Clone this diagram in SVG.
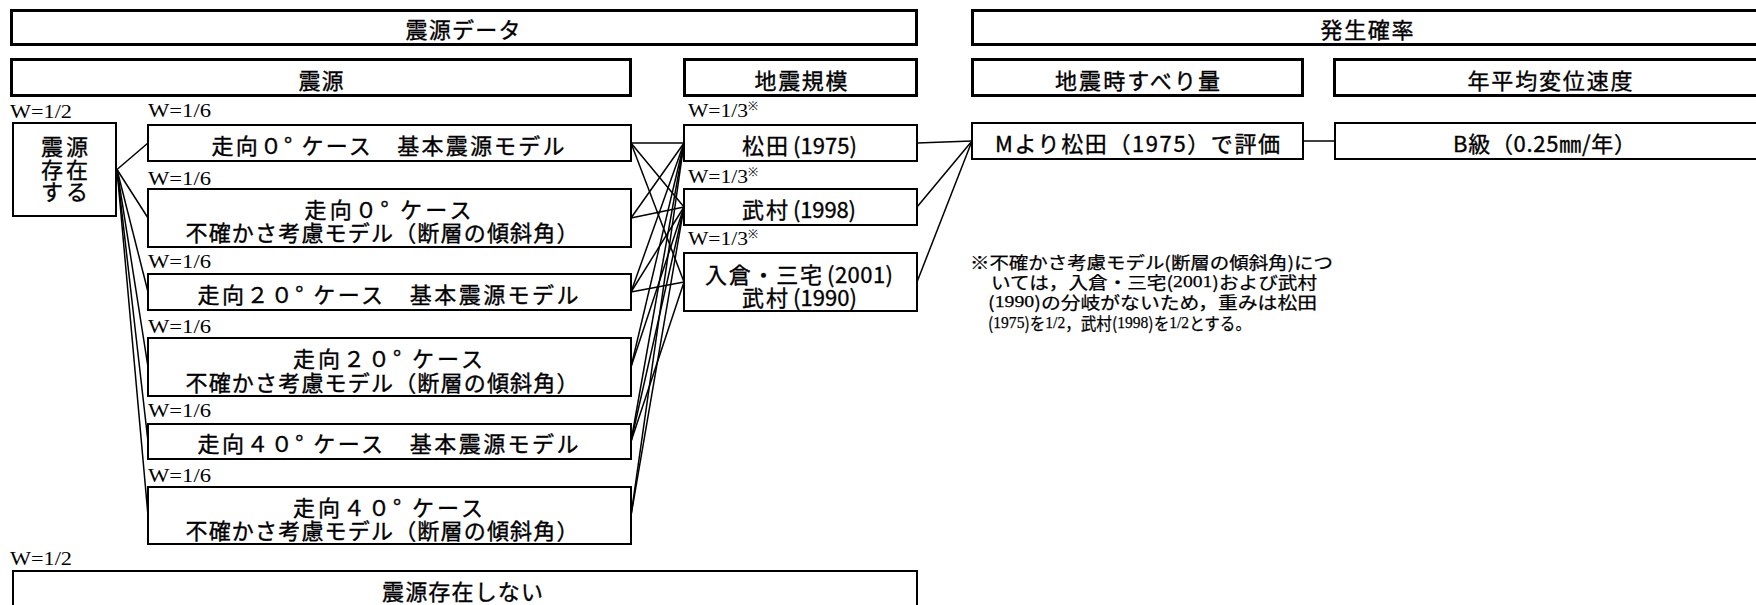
<svg xmlns="http://www.w3.org/2000/svg" width="1756" height="605" viewBox="0 0 1756 605">
<style>
.bg{fill:#fff}
.tb{fill:#fff;stroke:#000;stroke-width:3}
.nb{fill:#fff;stroke:#000;stroke-width:2}
.t{font-family:"Noto Sans CJK JP","Noto Sans",sans-serif;font-size:22px;fill:#000;stroke:#000;stroke-width:0.35;text-anchor:middle;dominant-baseline:central}
.l{text-anchor:start}
.w{font-family:"Liberation Serif","DejaVu Serif",serif;font-size:19px;fill:#000}
.n{font-family:"Noto Sans CJK JP","Noto Sans",sans-serif;font-size:17px;fill:#000;stroke:#000;stroke-width:0.25;dominant-baseline:central}
.s{font-family:"Liberation Serif","DejaVu Serif",serif}
.c{fill:none;stroke:#000;stroke-width:1.5}
</style>
<rect class="bg" x="0" y="0" width="1756" height="605"/>

<g id="connectors">
  <line class="c" x1="117" y1="169.5" x2="148" y2="143"/>
  <line class="c" x1="117" y1="169.5" x2="148" y2="218"/>
  <line class="c" x1="117" y1="169.5" x2="148" y2="292"/>
  <line class="c" x1="117" y1="169.5" x2="148" y2="367"/>
  <line class="c" x1="117" y1="169.5" x2="148" y2="441.5"/>
  <line class="c" x1="117" y1="169.5" x2="148" y2="515.5"/>

  <line class="c" x1="631" y1="143" x2="684" y2="143"/>
  <line class="c" x1="631" y1="143" x2="684" y2="207"/>
  <line class="c" x1="631" y1="143" x2="684" y2="282"/>
  <line class="c" x1="631" y1="218" x2="684" y2="143"/>
  <line class="c" x1="631" y1="218" x2="684" y2="207"/>
  <line class="c" x1="631" y1="292" x2="684" y2="143"/>
  <line class="c" x1="631" y1="292" x2="684" y2="207"/>
  <line class="c" x1="631" y1="292" x2="684" y2="282"/>
  <line class="c" x1="631" y1="367" x2="684" y2="143"/>
  <line class="c" x1="631" y1="367" x2="684" y2="207"/>
  <line class="c" x1="631" y1="441.5" x2="684" y2="143"/>
  <line class="c" x1="631" y1="441.5" x2="684" y2="207"/>
  <line class="c" x1="631" y1="441.5" x2="684" y2="282"/>
  <line class="c" x1="631" y1="515.5" x2="684" y2="143"/>
  <line class="c" x1="631" y1="515.5" x2="684" y2="207"/>

  <line class="c" x1="917" y1="143" x2="972" y2="141"/>
  <line class="c" x1="917" y1="207" x2="972" y2="141"/>
  <line class="c" x1="917" y1="282" x2="972" y2="141"/>
  <line class="c" x1="1303" y1="141" x2="1335" y2="141"/>
</g>

<g id="hdr-shingen-data">
  <rect class="tb" x="11.5" y="10.5" width="905" height="34"/>
  <text class="t" x="463" y="28" textLength="115">震源データ</text>
</g>
<g id="hdr-hassei">
  <rect class="tb" x="972.5" y="10.5" width="800" height="34"/>
  <text class="t" x="1367" y="28" textLength="93">発生確率</text>
</g>
<g id="hdr-shingen">
  <rect class="tb" x="11.5" y="59.5" width="619" height="36"/>
  <text class="t" x="321" y="79" textLength="45">震源</text>
</g>
<g id="hdr-kibo">
  <rect class="tb" x="684.5" y="59.5" width="232" height="36"/>
  <text class="t" x="801" y="79" textLength="93">地震規模</text>
</g>
<g id="hdr-suberi">
  <rect class="tb" x="972.5" y="59.5" width="330" height="36"/>
  <text class="t" x="1137.5" y="79" textLength="165">地震時すべり量</text>
</g>
<g id="hdr-heikin">
  <rect class="tb" x="1334.5" y="59.5" width="500" height="36"/>
  <text class="t" x="1550" y="79" textLength="165">年平均変位速度</text>
</g>

<g id="w-labels">
  <text class="w" x="10" y="118" textLength="62" lengthAdjust="spacingAndGlyphs">W=1/2</text>
  <text class="w" x="148" y="117" textLength="63" lengthAdjust="spacingAndGlyphs">W=1/6</text>
  <text class="w" x="148" y="185" textLength="63" lengthAdjust="spacingAndGlyphs">W=1/6</text>
  <text class="w" x="148" y="268" textLength="63" lengthAdjust="spacingAndGlyphs">W=1/6</text>
  <text class="w" x="148" y="333" textLength="63" lengthAdjust="spacingAndGlyphs">W=1/6</text>
  <text class="w" x="148" y="417" textLength="63" lengthAdjust="spacingAndGlyphs">W=1/6</text>
  <text class="w" x="148" y="482" textLength="63" lengthAdjust="spacingAndGlyphs">W=1/6</text>
  <text class="w" x="10" y="565" textLength="62" lengthAdjust="spacingAndGlyphs">W=1/2</text>
  <text class="w" x="688" y="117"><tspan textLength="60" lengthAdjust="spacingAndGlyphs">W=1/3</tspan><tspan font-size="12" dy="-7">※</tspan></text>
  <text class="w" x="688" y="183"><tspan textLength="60" lengthAdjust="spacingAndGlyphs">W=1/3</tspan><tspan font-size="12" dy="-7">※</tspan></text>
  <text class="w" x="688" y="245"><tspan textLength="60" lengthAdjust="spacingAndGlyphs">W=1/3</tspan><tspan font-size="12" dy="-7">※</tspan></text>
</g>

<g id="node-sonzai">
  <rect class="nb" x="13" y="123" width="103" height="93"/>
  <text class="t" x="64.5" y="145" font-size="21" textLength="47">震源</text>
  <text class="t" x="64.5" y="167.5" font-size="21" textLength="47">存在</text>
  <text class="t" x="64.5" y="190" font-size="21" textLength="47">する</text>
</g>

<g id="node-r1">
  <rect class="nb" x="148" y="125" width="483" height="36"/>
  <text class="t" x="388" y="144" textLength="353">走向０° ケース　基本震源モデル</text>
</g>
<g id="node-r2">
  <rect class="nb" x="148" y="189" width="483" height="58"/>
  <text class="t" x="388" y="208" textLength="167">走向０° ケース</text>
  <text class="t" x="382" y="231" textLength="393">不確かさ考慮モデル（断層の傾斜角）</text>
</g>
<g id="node-r3">
  <rect class="nb" x="148" y="274" width="483" height="36"/>
  <text class="t" x="388" y="293" textLength="381">走向２０° ケース　基本震源モデル</text>
</g>
<g id="node-r4">
  <rect class="nb" x="148" y="338" width="483" height="58"/>
  <text class="t" x="388" y="357" textLength="190">走向２０° ケース</text>
  <text class="t" x="382" y="381" textLength="393">不確かさ考慮モデル（断層の傾斜角）</text>
</g>
<g id="node-r5">
  <rect class="nb" x="148" y="424" width="483" height="35"/>
  <text class="t" x="388" y="442" textLength="381">走向４０° ケース　基本震源モデル</text>
</g>
<g id="node-r6">
  <rect class="nb" x="148" y="487" width="483" height="57"/>
  <text class="t" x="388" y="506" textLength="190">走向４０° ケース</text>
  <text class="t" x="382" y="529" textLength="393">不確かさ考慮モデル（断層の傾斜角）</text>
</g>

<g id="node-matsuda">
  <rect class="nb" x="684" y="125" width="233" height="36"/>
  <text class="t l" x="742" y="144" textLength="46">松田</text>
  <text class="t l" x="793" y="144" textLength="64">(1975)</text>
</g>
<g id="node-takemura1998">
  <rect class="nb" x="684" y="189" width="233" height="36"/>
  <text class="t l" x="742" y="208" textLength="46">武村</text>
  <text class="t l" x="793" y="208" textLength="63">(1998)</text>
</g>
<g id="node-irikura">
  <rect class="nb" x="684" y="253" width="233" height="58"/>
  <text class="t l" x="705" y="273" textLength="117">入倉・三宅</text>
  <text class="t l" x="827" y="273" textLength="66">(2001)</text>
  <text class="t l" x="742" y="296" textLength="46">武村</text>
  <text class="t l" x="793" y="296" textLength="64">(1990)</text>
</g>

<g id="node-m-matsuda">
  <rect class="nb" x="972" y="123" width="331" height="36"/>
  <text class="t" x="1137.5" y="142" textLength="285">Mより松田（1975）で評価</text>
</g>
<g id="node-bkyu">
  <rect class="nb" x="1335" y="123" width="500" height="36"/>
  <text class="t" x="1544.5" y="142" textLength="183">B級（0.25㎜/年）</text>
</g>

<g id="node-nonexist">
  <rect class="nb" x="13" y="571" width="904" height="50"/>
  <text class="t" x="462.5" y="590" textLength="161">震源存在しない</text>
</g>

<g id="note">
  <text class="n" x="970" y="261" textLength="363" lengthAdjust="spacingAndGlyphs">※不確かさ考慮モデル(断層の傾斜角)につ</text>
  <text class="n" x="991" y="281" textLength="326" lengthAdjust="spacingAndGlyphs">いては，入倉・三宅(<tspan class="s">2001</tspan>)および武村</text>
  <text class="n" x="988" y="301" textLength="329" lengthAdjust="spacingAndGlyphs">(<tspan class="s">1990</tspan>)の分岐がないため，重みは松田</text>
  <text class="n" x="988" y="322" textLength="263" lengthAdjust="spacingAndGlyphs">(<tspan class="s">1975</tspan>)を<tspan class="s">1/2</tspan>，武村(<tspan class="s">1998</tspan>)を<tspan class="s">1/2</tspan>とする。</text>
</g>
</svg>
